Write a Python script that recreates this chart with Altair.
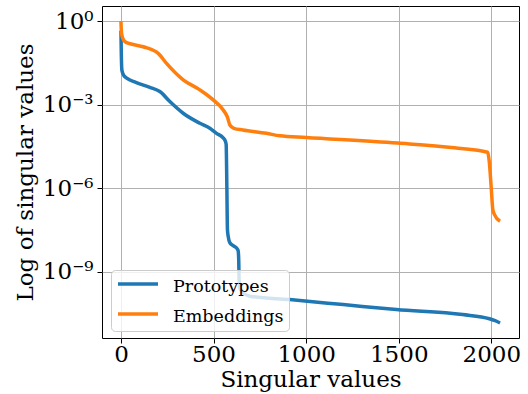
import altair as alt
import pandas as pd

# Singular value index and log10(singular value)
proto_idx = [0, 2, 5, 15, 31, 80, 156, 210, 264, 336, 426, 480, 516, 550, 561, 568,
             572, 575, 579, 588, 610, 628, 633, 636, 638, 642, 660, 696, 911, 1200,
             1487, 1845, 1990, 2020, 2047]
proto_log = [-0.35, -1.2, -1.76, -1.95, -2.05, -2.2, -2.38, -2.53, -2.89, -3.31, -3.67,
             -3.85, -4.03, -4.18, -4.27, -4.42, -6.0, -7.49, -7.73, -7.96, -8.08, -8.18,
             -8.25, -8.6, -9.3, -9.6, -9.76, -9.88, -10.0, -10.18, -10.36, -10.54,
             -10.69, -10.76, -10.84]

emb_idx = [0, 1, 3, 10, 22, 60, 120, 201, 246, 336, 426, 498, 552, 575, 588, 610,
           658, 786, 858, 1000, 1494, 1800, 1980, 1988, 1999, 2008, 2017, 2047]
emb_log = [0.0, -0.2, -0.43, -0.62, -0.74, -0.83, -0.92, -1.16, -1.52, -2.11, -2.47,
           -2.83, -3.19, -3.45, -3.73, -3.85, -3.91, -4.03, -4.12, -4.18, -4.38, -4.55,
           -4.71, -5.0, -5.94, -6.77, -6.95, -7.19]

series_names = ["Prototypes", "Embeddings"]
series_colors = ["#1f77b4", "#ff7f0e"]

x_ticks = [0, 500, 1000, 1500, 2000]
y_ticks = [1.0, 1e-3, 1e-6, 1e-9]

rows = []
for i, (xs, ls) in enumerate([(proto_idx, proto_log), (emb_idx, emb_log)]):
    for k, (x, l) in enumerate(zip(xs, ls)):
        rows.append({"series": series_names[i], "order": i, "idx": x, "val": 10 ** l})
df = pd.DataFrame(rows)

font = "DejaVu Serif"

label_expr = ("datum.value >= 0.5 ? '10⁰' : datum.value >= 5e-4 ? '10⁻³' : "
              "datum.value >= 5e-7 ? '10⁻⁶' : '10⁻⁹'")

chart = alt.Chart(df).mark_line(strokeWidth=3.5, interpolate="monotone", clip=True).encode(
    x=alt.X("idx:Q", title="Singular values",
            scale=alt.Scale(domain=[-102.35, 2149.35], nice=False, zero=False),
            axis=alt.Axis(values=x_ticks, format="d", titlePadding=2, labelPadding=0)),
    y=alt.Y("val:Q", title="Log of singular values",
            scale=alt.Scale(type="log", domain=[10 ** -11.38, 10 ** 0.542], nice=False),
            axis=alt.Axis(values=y_ticks, labelExpr=label_expr, titlePadding=5, labelPadding=4)),
    color=alt.Color("series:N",
                    scale=alt.Scale(domain=series_names, range=series_colors),
                    legend=alt.Legend(orient="none", legendX=9, legendY=264, title=None,
                                      symbolType="M-1,-0.3H3", symbolStrokeWidth=3.5,
                                      symbolSize=400, symbolFillColor="transparent",
                                      labelFont=font, labelFontSize=17.5,
                                      labelColor="black", padding=5,
                                      strokeColor="#cccccc", fillColor="rgba(255,255,255,0.8)",
                                      cornerRadius=4, rowPadding=9, labelOffset=33)),
    detail="order:O",
    order=alt.Order("idx:Q"),
).properties(
    width=417, height=332,
    autosize=alt.AutoSizeParams(type="none"),
    padding={"left": 102, "top": 6, "right": 9, "bottom": 56},
).configure_view(
    stroke="black", strokeWidth=1
).configure_axis(
    labelFont=font, titleFont=font, labelFontSize=23, titleFontSize=23,
    titleFontWeight="normal", labelColor="black", titleColor="black",
    grid=True, gridColor="#b0b0b0", gridWidth=1, domain=False,
    tickColor="black", tickSize=5, tickWidth=1
)

chart.save("out.html", embed_options={"renderer": "svg", "actions": False})
